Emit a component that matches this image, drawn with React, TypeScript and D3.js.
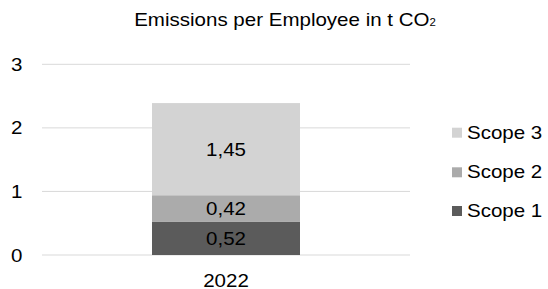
import React from "react";
import * as d3 from "d3";

const categories = ["2022"];
const seriesNames = ["Scope 1", "Scope 2", "Scope 3"];
const scope1 = [0.52];
const scope2 = [0.42];
const scope3 = [1.45];
const yTicks = [0, 1, 2, 3];
const colors = ["#5b5b5b", "#ababab", "#d3d3d3"];

const W = 548;
const H = 289;
const SX = 1.14;
const FONT = "'Liberation Sans', Arial, sans-serif";

function T({ x, y, anchor = "middle", size = 18, children }: any) {
  return (
    <text
      transform={`translate(${x},${y}) scale(${SX},1)`}
      textAnchor={anchor}
      fontSize={size}
      fontFamily={FONT}
      fill="#000"
    >
      {children}
    </text>
  );
}

export default function App() {
  const x = d3.scaleBand<string>().domain(categories).range([42, 410]).padding(0.4264);
  const y = d3.scaleLinear().domain([0, 3]).range([255, 64.3]);

  const rows = categories.map((c, i) => ({ cat: c, s1: scope1[i], s2: scope2[i], s3: scope3[i] }));
  const stack = d3.stack<any>().keys(["s1", "s2", "s3"])(rows);
  const fmt = (v: number) => v.toFixed(2).replace(".", ",");

  const legendY = [211, 172.3, 132.7];

  return (
    <svg width={W} height={H} style={{ position: "absolute", left: 0, top: 0 }}>
      <rect width={W} height={H} fill="#fff" />
      {yTicks.map((t) => (
        <g key={t}>
          <line x1={42} x2={410} y1={y(t)} y2={y(t)} stroke="#d9d9d9" strokeWidth={1} />
          <T x={22.5} y={y(t) + 6.5} anchor="end">{t}</T>
        </g>
      ))}
      {stack.map((layer, li) =>
        layer.map((d, i) => {
          const x0 = x(rows[i].cat)!;
          const y0 = y(d[1]);
          const y1 = y(d[0]);
          return (
            <g key={li + "-" + i}>
              <rect x={x0} y={y0} width={x.bandwidth()} height={y1 - y0} fill={colors[li]} />
              <T x={x0 + x.bandwidth() / 2} y={(y0 + y1) / 2 + 6.5}>{fmt(d[1] - d[0])}</T>
            </g>
          );
        })
      )}
      {categories.map((c) => (
        <T key={c} x={x(c)! + x.bandwidth() / 2} y={286.5}>{c}</T>
      ))}
      <text
        transform={`translate(285,26) scale(${SX},1)`}
        textAnchor="middle"
        fontSize={18}
        fontFamily={FONT}
        fill="#000"
      >
        Emissions per Employee in t CO<tspan fontSize={10}>2</tspan>
      </text>
      {seriesNames.map((s, i) => (
        <g key={s}>
          <rect x={452} y={legendY[i] - 5} width={10} height={10} fill={colors[i]} />
          <T x={467} y={legendY[i] + 6} anchor="start">{s}</T>
        </g>
      ))}
    </svg>
  );
}
